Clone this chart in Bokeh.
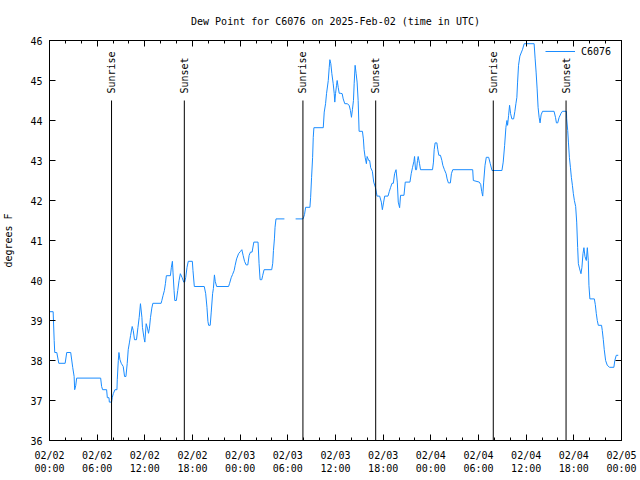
import numpy as np
from bokeh.plotting import figure
from bokeh.models import FixedTicker, LinearAxis, Legend, LegendItem
from bokeh.core.properties import value
from bokeh.embed import file_html
from bokeh.resources import INLINE

# hours since 2025-02-02 00:00 UTC and dew point (deg F); NaN = missing data
hours = [
    0.00, 0.46, 0.59, 0.66, 0.92, 1.17, 1.97, 2.17, 2.67, 2.92, 3.10, 3.17, 3.30, 3.42,
    6.44, 6.56, 6.69, 7.19, 7.28, 7.49, 7.53, 7.81, 7.90, 8.03, 8.24, 8.49, 8.53, 8.66,
    8.74, 8.87, 9.03, 9.28, 9.45, 9.62, 9.78, 9.91, 10.07, 10.20, 10.41, 10.54, 10.70,
    10.95, 11.13, 11.29, 11.45, 11.63, 11.70, 11.88, 12.00, 12.17, 12.33, 12.46, 12.58,
    12.71, 12.88, 13.01, 14.05, 14.14, 14.30, 14.46, 14.59, 14.71, 15.22, 15.34, 15.47,
    15.55, 15.68, 15.77, 15.97, 16.14, 16.31, 16.47, 16.68, 16.90, 17.02, 17.15, 17.31,
    17.47, 17.98, 18.06, 18.23, 19.48, 19.66, 19.82, 19.94, 20.03, 20.23, 20.36, 20.53,
    20.63, 20.76, 20.86, 21.04, 22.54, 22.67, 22.87, 23.04, 23.24, 23.37, 23.55, 23.80,
    24.05, 24.21, 24.37, 24.55, 24.75, 24.96, 25.13, 25.30, 25.50, 25.72, 26.25, 26.38,
    26.51, 26.72, 26.84, 27.01, 27.97, 28.10, 28.19, 28.31, 28.39, 28.51, 29.57, 30.20,
    30.98, 31.92, 32.10, 32.24, 32.78, 32.87, 32.99, 33.12, 33.20, 33.28, 34.46, 34.58,
    34.75, 34.87, 35.09, 35.21, 35.29, 35.41, 35.54, 35.71, 35.84, 35.91, 36.00, 36.13,
    36.21, 36.34, 36.47, 36.67, 36.84, 36.97, 37.17, 37.47, 37.72, 37.88, 38.01, 38.13,
    38.26, 38.35, 38.47, 38.60, 38.72, 38.85, 38.97, 39.39, 39.51, 39.60, 39.73, 39.89,
    39.98, 40.18, 40.30, 40.43, 40.64, 40.81, 41.02, 41.14, 41.23, 41.56, 41.77, 41.90,
    42.06, 42.19, 42.61, 42.78, 42.94, 43.11, 43.28, 43.44, 43.62, 43.78, 43.90, 44.07,
    44.19, 44.62, 44.78, 45.37, 45.53, 45.70, 45.87, 45.95, 46.07, 46.20, 46.32, 46.41,
    46.57, 46.70, 48.21, 48.33, 48.42, 48.54, 48.76, 48.88, 49.01, 49.21, 49.39, 49.51,
    49.71, 49.92, 50.05, 50.21, 50.46, 50.59, 50.76, 53.27, 53.35, 54.10, 54.28, 54.40,
    54.53, 54.65, 54.82, 54.98, 55.28, 55.48, 55.70, 56.95, 57.11, 57.29, 57.45, 57.58,
    57.66, 57.79, 57.91, 58.04, 58.20, 58.42, 58.58, 58.71, 58.83, 58.92, 59.04, 59.21,
    59.55, 59.75, 61.00, 61.13, 61.25, 61.38, 61.50, 61.63, 61.75, 61.88, 62.06, 63.51,
    63.69, 63.81, 63.97, 64.14, 64.39, 64.56, 65.07, 65.10, 65.23, 65.32, 65.44, 65.57,
    65.69, 65.82, 65.94, 66.07, 66.23, 66.36, 66.48, 66.57, 66.73, 66.90, 67.02, 67.15,
    67.27, 67.40, 67.57, 67.70, 67.82, 67.90, 68.02, 68.58, 68.70, 68.83, 68.95, 69.08,
    69.49, 69.58, 69.71, 69.83, 70.00, 70.21, 70.50, 71.04, 71.16, 71.34, 71.59,
]
dewpoint = [
    39.22, 39.22, 38.50, 38.20, 38.20, 37.93, 37.93, 38.20, 38.20, 37.83, 37.60, 37.27, 37.37, 37.56,
    37.56, 37.35, 37.27, 37.27, 37.07, 37.07, 36.96, 36.96, 37.07, 37.17, 37.27, 37.27, 37.52, 38.00,
    38.20, 38.02, 37.93, 37.85, 37.60, 37.60, 37.92, 38.27, 38.46, 38.62, 38.85, 38.75, 38.52,
    38.52, 38.82, 39.08, 39.42, 39.08, 38.83, 38.58, 38.46, 38.92, 38.81, 38.68, 38.81,
    39.07, 39.31, 39.43, 39.43, 39.50, 39.63, 39.75, 39.92, 40.12, 40.12, 40.33, 40.48,
    40.19, 39.75, 39.50, 39.50, 39.75, 40.00, 40.17, 40.08, 39.96, 39.96, 40.08, 40.33,
    40.48, 40.48, 40.25, 39.85, 39.85, 39.67, 39.33, 38.98, 38.88, 38.88, 39.21, 39.67,
    39.80, 40.14, 39.98, 39.85, 39.85, 39.93, 40.07, 40.15, 40.25, 40.38, 40.54, 40.67,
    40.73, 40.77, 40.63, 40.48, 40.39, 40.39, 40.63, 40.71, 40.71, 40.96, 40.96, 40.42,
    40.02, 40.02, 40.13, 40.27, 40.27, 40.43, 40.75, 41.04, 41.33, 41.54, 41.54, float("nan"),
    41.54, 41.54, 41.65, 41.83, 41.83, 42.08, 42.58, 43.08, 43.58, 43.82, 43.82, 44.21,
    44.42, 44.67, 45.00, 45.33, 45.52, 45.42, 45.17, 44.92, 44.67, 44.46, 44.67, 44.88,
    45.00, 44.83, 44.68, 44.68, 44.67, 44.54, 44.42, 44.42, 44.38, 44.25, 44.08, 44.27,
    44.50, 44.92, 45.38, 45.17, 44.96, 44.50, 43.73, 43.73, 43.54, 43.27, 43.08, 42.92,
    43.10, 43.00, 43.00, 42.82, 42.73, 42.46, 42.33, 42.21, 42.11, 42.11, 41.96, 41.77,
    41.96, 42.11, 42.11, 42.23, 42.33, 42.43, 42.43, 42.67, 42.77, 42.46, 41.96, 41.82,
    42.13, 42.13, 42.46, 42.46, 42.67, 42.83, 42.98, 43.10, 42.77, 42.77, 43.00, 43.10,
    42.93, 42.77, 42.77, 42.96, 43.27, 43.44, 43.44, 43.27, 43.13, 43.13, 43.00, 42.88,
    42.77, 42.67, 42.54, 42.44, 42.44, 42.67, 42.77, 42.77, 42.50, 42.46, 42.40, 42.23,
    42.11, 42.46, 42.88, 43.08, 43.08, 42.92, 42.75, 42.75, 42.96, 43.38, 43.83, 44.00,
    43.88, 44.13, 44.38, 44.17, 44.04, 44.04, 44.23, 44.42, 44.58, 44.96, 45.38, 45.61,
    45.78, 45.92, 45.92, 45.54, 45.21, 44.79, 44.33, 44.08, 43.94, 44.14, 44.23, 44.23,
    44.08, 43.94, 43.94, 44.07, 44.18, 44.23, 44.23, 44.04, 43.75, 43.46, 43.08, 42.83,
    42.58, 42.38, 42.17, 42.00, 41.85, 41.46, 40.83, 40.42, 40.29, 40.17, 40.33, 40.67,
    40.82, 40.60, 40.50, 40.82, 40.50, 39.88, 39.54, 39.54, 39.40, 39.17, 39.00, 38.88,
    38.88, 38.75, 38.52, 38.27, 38.00, 37.88, 37.83, 37.83, 38.00, 38.13, 38.13,
]

event_hours = [7.81, 16.97, 31.90, 41.06, 55.86, 65.02]
event_names = ["Sunrise", "Sunset", "Sunrise", "Sunset", "Sunrise", "Sunset"]
event_top = 44.5

x_ticks = [0, 6, 12, 18, 24, 30, 36, 42, 48, 54, 60, 66, 72]
x_tick_labels = ["02/02\n00:00", "02/02\n06:00", "02/02\n12:00", "02/02\n18:00",
                 "02/03\n00:00", "02/03\n06:00", "02/03\n12:00", "02/03\n18:00",
                 "02/04\n00:00", "02/04\n06:00", "02/04\n12:00", "02/04\n18:00",
                 "02/05\n00:00"]
x_minor = list(range(0, 73, 2))
y_ticks = list(range(36, 47))

FONT = "DejaVu Sans Mono"
FS = "10px"
LINE_COLOR = "#1a8cff"

p = figure(width=640, height=480, x_range=(0, 72), y_range=(36, 46),
           output_backend="svg", toolbar_location=None,
           title="Dew Point for C6076 on 2025-Feb-02 (time in UTC)",
           min_border_left=47, min_border_right=19, min_border_top=40, min_border_bottom=40)
p.xgrid.visible = False
p.ygrid.visible = False
p.outline_line_color = "black"
p.outline_line_alpha = 1

p.title.align = "center"
p.title.text_font = FONT
p.title.text_font_size = FS
p.title.text_font_style = "normal"
p.title.text_color = "black"
p.title.standoff = 27

xt = FixedTicker(ticks=x_ticks, minor_ticks=x_minor)
yt = FixedTicker(ticks=y_ticks, minor_ticks=[])


def style_axis(ax):
    ax.axis_line_color = "black"
    ax.major_tick_line_color = "black"
    ax.minor_tick_line_color = "black"
    ax.major_tick_in = 6
    ax.major_tick_out = 0
    ax.minor_tick_in = 3
    ax.minor_tick_out = 0
    ax.major_label_text_font = FONT
    ax.major_label_text_font_size = FS
    ax.major_label_text_color = "black"
    ax.axis_label_text_font = FONT
    ax.axis_label_text_font_size = FS
    ax.axis_label_text_font_style = "normal"
    ax.axis_label_text_color = "black"


xa = p.xaxis[0]
xa.ticker = xt
xa.major_label_overrides = {t: lab for t, lab in zip(x_ticks, x_tick_labels)}
style_axis(xa)
xa.major_label_standoff = 9

ya = p.yaxis[0]
ya.ticker = yt
style_axis(ya)
ya.axis_label = "degrees F"
ya.major_label_standoff = 7
ya.axis_label_standoff = 13

top = LinearAxis(ticker=xt, major_label_overrides={t: "" for t in x_ticks})
style_axis(top)
top.major_label_text_font_size = "0px"
top.major_label_standoff = 0
p.add_layout(top, "above")

right = LinearAxis(ticker=yt, major_label_overrides={t: "" for t in y_ticks})
style_axis(right)
right.major_label_text_font_size = "0px"
right.major_label_standoff = 0
p.add_layout(right, "right")

line = p.line(hours, dewpoint, line_color=LINE_COLOR, line_width=1)

p.segment(x0=event_hours, y0=[36] * len(event_hours), x1=event_hours,
          y1=[event_top] * len(event_hours), line_color="black", line_width=1)
p.text(x=event_hours, y=[event_top] * len(event_hours), text=event_names,
       angle=np.pi / 2, text_align="left", text_baseline="middle", y_offset=-7,
       text_font=value(FONT), text_font_size=FS, text_color="black")

legend = Legend(items=[LegendItem(label="C6076", renderers=[line])],
                location=(494, 380), padding=2, margin=0, glyph_width=30,
                glyph_height=14, label_height=14, label_standoff=6,
                background_fill_alpha=0, border_line_alpha=0,
                label_text_font=FONT, label_text_font_size=FS,
                label_text_color="black")
p.add_layout(legend)

open("out.html", "w").write(file_html(p, INLINE))
